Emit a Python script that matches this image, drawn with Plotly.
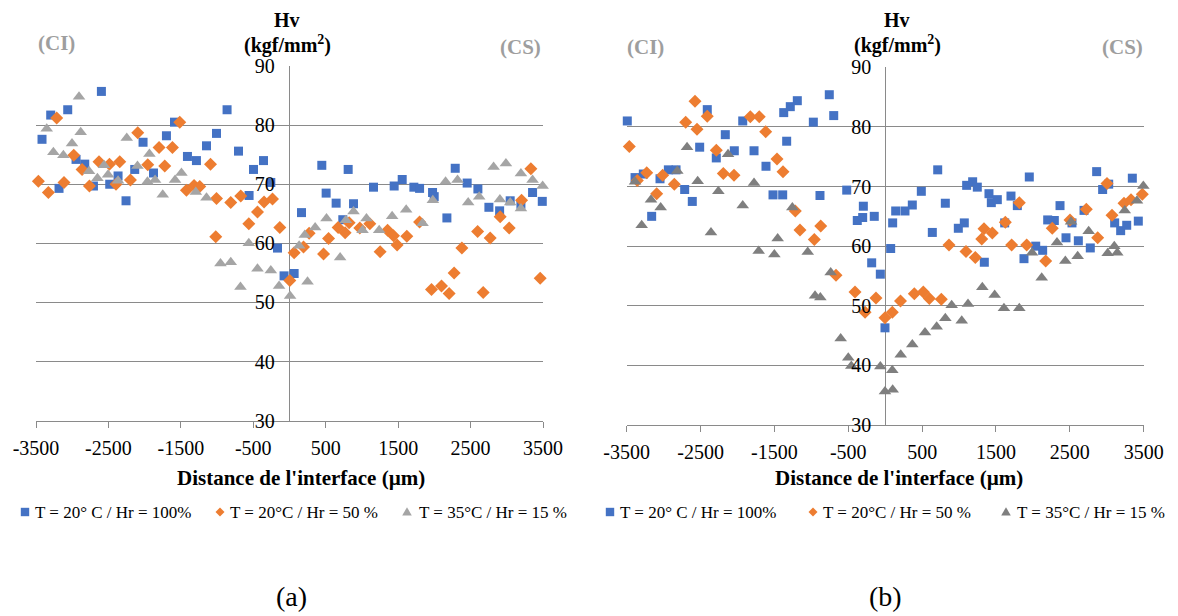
import plotly.graph_objects as go

W, H = 1178, 616
FONT = "'Liberation Serif', Tinos, 'Times New Roman', 'DejaVu Serif', serif"

# ---------------- data (a) ----------------
a_blue_x = [-3417, -3297, -3182, -3062, -2947, -2827, -2707, -2597, -2482, -2367, -2257, -2137, -2022, -1878,
            -1699, -1588, -1409, -1285, -1146, -1008, -862, -704, -558, -497, -359, -258, -166, -75, 64, 166,
            446, 506, 644, 736, 810, 884, 1160, 1445, 1556, 1717, 1796, 1975, 1998, 2173, 2288, 2453, 2601,
            2753, 2901, 3047, 3195, 3356, 3490]
a_blue_y = [77.6, 81.7, 69.3, 82.6, 74.2, 73.4, 69.7, 85.7, 70.0, 71.4, 67.2, 72.5, 77.1, 71.9,
            78.2, 80.5, 74.7, 74.0, 76.5, 78.6, 82.6, 75.6, 68.1, 72.5, 74.0, 70.3, 59.2, 54.5, 54.9, 65.2,
            73.2, 68.5, 66.8, 64.0, 72.5, 66.7, 69.5, 69.7, 70.8, 69.5, 69.3, 68.6, 67.9, 64.3, 72.7, 70.2, 69.2,
            66.1, 65.5, 67.2, 66.6, 68.6, 67.1]

a_orange_x = [-3467, -3329, -3214, -3113, -2979, -2864, -2762, -2630, -2486, -2395, -2344, -2196, -2095, -1957,
              -1801, -1722, -1616, -1515, -1423, -1318, -1239, -1091, -1018, -1008, -811, -673, -562, -442, -351,
              -235, -134, 4, 64, 193, 271, 470, 539, 671, 768, 823, 971, 1109, 1251, 1354, 1436, 1486, 1620,
              1796, 1961, 2099, 2204, 2273, 2380, 2597, 2674, 2771, 2909, 3033, 3204, 3333, 3461]
a_orange_y = [70.5, 68.6, 81.2, 70.3, 74.9, 72.5, 69.7, 73.8, 73.4, 70.0, 73.8, 70.7, 78.7, 73.3,
              76.2, 73.1, 76.2, 80.5, 69.0, 69.8, 69.6, 73.4, 61.1, 67.6, 66.9, 68.0, 63.3, 65.3, 67.0,
              67.5, 62.7, 53.7, 58.4, 59.4, 61.7, 58.2, 60.8, 62.7, 61.8, 63.5, 62.6, 63.3, 58.6, 62.2, 61.3, 59.7, 61.2,
              63.6, 52.2, 52.8, 51.5, 55.0, 59.2, 62.0, 51.7, 60.9, 64.5, 62.6, 67.3, 72.6, 54.1]

a_gray_x = [-3352, -3260, -3122, -3003, -2906, -2883, -2768, -2652, -2561, -2505, -2367, -2247, -2099, -1961,
            -1934, -1856, -1750, -1580, -1492, -1294, -1146, -953, -811, -677, -562, -442, -258, -144, 8, 133,
            211, 249, 354, 511, 699, 778, 884, 1008, 1063, 1238, 1417, 1611, 1837, 1979, 2155, 2320, 2467,
            2619, 2818, 2905, 2988, 3047, 3195, 3195, 3356, 3495]
a_gray_y = [79.4, 75.4, 74.9, 76.9, 84.8, 78.8, 72.2, 71.0, 73.2, 71.6, 70.6, 77.8, 73.1, 70.4,
            75.1, 70.7, 68.2, 70.7, 71.9, 68.7, 67.7, 56.6, 56.8, 52.6, 60.0, 55.7, 55.4, 52.8, 51.1, 59.6,
            61.4, 53.5, 62.7, 64.2, 57.6, 63.9, 65.4, 62.2, 64.2, 62.2, 64.6, 65.7, 63.4, 67.3, 70.4, 70.7, 66.9,
            67.9, 72.9, 67.4, 73.5, 66.9, 71.8, 65.9, 70.7, 69.7]

# ---------------- data (b) ----------------
b_blue_x = [-3492, -3387, -3275, -3162, -3049, -2936, -2832, -2715, -2612, -2512, -2409, -2287, -2165, -2043,
            -1929, -1776, -1614, -1519, -1388, -1374, -1334, -1285, -1190, -973, -883, -757, -697, -521, -378,
            -305, -296, -183, -148, -66, -3, 74, 101, 142, 268, 367, 489, 638, 711, 814, 990, 1071, 1103, 1184,
            1247, 1342, 1405, 1437, 1518, 1618, 1703, 1789, 1879, 1951, 2038, 2132, 2200, 2290, 2367, 2448,
            2529, 2615, 2692, 2777, 2863, 2944, 3026, 3107, 3188, 3270, 3346, 3427]
b_blue_y = [81.0, 71.5, 72.1, 65.0, 71.3, 72.8, 72.8, 69.5, 67.5, 76.6, 82.9, 74.8, 78.7, 76.0,
            81.0, 76.0, 73.4, 68.6, 68.6, 82.4, 77.6, 83.4, 84.4, 80.8, 68.5, 85.4, 81.9, 69.4, 64.3,
            64.8, 66.7, 57.2, 65.0, 55.3, 46.3, 59.6, 63.9, 65.9, 65.9, 66.9, 69.2, 62.3, 72.8, 67.2, 63.0, 63.9, 70.2, 70.8,
            69.9, 57.3, 68.8, 67.3, 67.8, 63.9, 68.4, 66.8, 57.9, 71.6, 60.0, 59.3, 64.4, 64.3, 66.8, 61.4,
            63.9, 60.9, 66.0, 59.7, 72.5, 69.5, 70.4, 63.9, 62.6, 63.5, 71.4, 64.2]

b_orange_x = [-3465, -3356, -3229, -3094, -3013, -2855, -2701, -2575, -2548, -2409, -2287, -2192, -2047, -1826,
              -1705, -1618, -1465, -1384, -1217, -1154, -960, -873, -666, -409, -273, -125, -3, 96, 207, 394,
              516, 597, 760, 864, 1094, 1220, 1307, 1338, 1450, 1626, 1712, 1816, 1916, 2173, 2262, 2502,
              2723, 2877, 3003, 3071, 3233, 3328, 3481]
b_orange_y = [76.7, 71.0, 72.3, 68.8, 71.9, 70.4, 80.8, 84.3, 79.6, 81.8, 76.1, 72.2, 71.9, 81.7,
              81.7, 79.2, 74.6, 72.5, 65.9, 62.7, 61.1, 63.4, 55.1, 52.3, 48.9, 51.3, 48.0, 48.9, 50.8, 52.0,
              52.3, 51.2, 51.1, 60.2, 59.1, 58.1, 61.2, 62.9, 62.2, 64.0, 60.2, 67.3, 60.2, 57.5, 63.0, 64.4,
              66.2, 61.4, 70.5, 65.2, 67.2, 67.8, 68.7]

b_gray_x = [-3387, -3297, -3171, -3040, -2815, -2683, -2539, -2359, -2259, -2128, -1929, -1776, -1713, -1501,
            -1456, -1257, -1049, -950, -878, -738, -603, -500, -459, -66, -3, 96, 101, 210, 367, 539, 697,
            814, 900, 1036, 1121, 1315, 1482, 1608, 1816, 1988, 2119, 2326, 2439, 2516, 2606, 2755, 3012,
            3102, 3142, 3243, 3409, 3495]
b_gray_y = [70.8, 63.5, 67.8, 66.5, 72.6, 76.6, 70.9, 62.3, 69.2, 75.4, 66.8, 70.6, 59.2, 58.6,
            61.3, 66.5, 59.0, 51.7, 51.4, 55.6, 44.5, 41.3, 39.9, 39.8, 35.6, 39.2, 35.9, 41.8, 43.5, 45.5, 46.5,
            47.9, 50.1, 47.5, 50.3, 53.1, 51.8, 49.6, 49.6, 58.9, 54.7, 60.6, 57.5, 64.1, 58.3, 62.5, 58.8,
            60.0, 58.9, 66.0, 67.6, 70.1]

series_names = ["T = 20° C / Hr = 100%", "T = 20°C / Hr = 50 %", "T = 35°C / Hr = 15 %"]
x_tick_vals = [-3500, -2500, -1500, -500, 500, 1500, 2500, 3500]
x_tick_text = ["-3500", "-2500", "-1500", "-500", "500", "1500", "2500", "3500"]
y_tick_vals = [30, 40, 50, 60, 70, 80, 90]
y_tick_text = ["30", "40", "50", "60", "70", "80", "90"]

BLUE = "#4472C4"
ORANGE = "#ED7D31"
GRAY_A = "#A5A5A5"
GRAY_B = "#7F7F7F"
GRID = "#8A8A8A"


def px(x):
    return x / W


def py(y):
    return 1 - y / H


fig = go.Figure()

panels = [
    dict(xa="x", ya="y",
         data=[(a_blue_x, a_blue_y), (a_orange_x, a_orange_y), (a_gray_x, a_gray_y)],
         gray=GRAY_A),
    dict(xa="x2", ya="y2",
         data=[(b_blue_x, b_blue_y), (b_orange_x, b_orange_y), (b_gray_x, b_gray_y)],
         gray=GRAY_B),
]

for p in panels:
    styles = [
        dict(symbol="square", size=9, color=BLUE),
        dict(symbol="diamond", size=10, color=ORANGE),
        dict(symbol="triangle-up", size=11, color=p["gray"]),
    ]
    for (xs, ys), st, name in zip(p["data"], styles, series_names):
        fig.add_trace(go.Scatter(
            x=xs, y=ys, mode="markers", name=name, showlegend=False,
            marker=dict(symbol=st["symbol"], size=st["size"], color=st["color"], line=dict(width=0)),
            xaxis=p["xa"], yaxis=p["ya"], cliponaxis=False,
        ))

# axis geometry (pixels)
ax_a = dict(x0=36, x1=543, y0=66, y1=420.7, zero=288.7)
ax_b = dict(x0=626.7, x1=1143.7, y0=67.3, y1=425, zero=885.2)

common_x = dict(range=[-3500, 3500], tickvals=x_tick_vals, ticktext=x_tick_text,
                showgrid=False, zeroline=True, zerolinecolor=GRID, zerolinewidth=1.4,
                showline=True, linecolor=GRID, linewidth=1.4,
                ticks="outside", ticklen=6, tickcolor=GRID, tickwidth=1.4,
                ticklabelstandoff=3, automargin=False,
                tickfont=dict(family=FONT, size=20, color="#000000"))
common_y = dict(range=[30, 90], tickvals=y_tick_vals, ticktext=y_tick_text,
                showgrid=True, gridcolor=GRID, gridwidth=1.4, zeroline=False,
                showline=False, ticks="", ticklabelstandoff=14, automargin=False,
                tickfont=dict(family=FONT, size=20, color="#000000"))

fig.update_layout(
    width=W, height=H, margin=dict(l=0, r=0, t=0, b=0, autoexpand=False),
    paper_bgcolor="white", plot_bgcolor="white", showlegend=False,
    font=dict(family=FONT, size=18, color="#000000"),
    xaxis=dict(domain=[px(ax_a["x0"]), px(ax_a["x1"])], anchor="y", **common_x),
    yaxis=dict(domain=[py(ax_a["y1"]), py(ax_a["y0"])], anchor="free",
               position=px(ax_a["zero"]), **common_y),
    xaxis2=dict(domain=[px(ax_b["x0"]), px(ax_b["x1"])], anchor="y2", **common_x),
    yaxis2=dict(domain=[py(ax_b["y1"]), py(ax_b["y0"])], anchor="free",
                position=px(ax_b["zero"]), **common_y),
)

ann = []
shapes = []


def add_text(text, x, y, size, color="#000000", bold=False, xanchor="center"):
    t = f"<b>{text}</b>" if bold else text
    ann.append(dict(text=t, x=px(x), y=py(y), xref="paper", yref="paper",
                    xanchor=xanchor, yanchor="middle", showarrow=False,
                    font=dict(family=FONT, size=size, color=color)))


def key_marker(kind, cx, cy, color, s=4.2):
    if kind == "square":
        shapes.append(dict(type="rect", xref="paper", yref="paper",
                           x0=px(cx - s), x1=px(cx + s), y0=py(cy + s), y1=py(cy - s),
                           fillcolor=color, line=dict(width=0)))
    elif kind == "diamond":
        d = s + 0.3
        path = (f"M {px(cx)} {py(cy - d)} L {px(cx + d)} {py(cy)} "
                f"L {px(cx)} {py(cy + d)} L {px(cx - d)} {py(cy)} Z")
        shapes.append(dict(type="path", xref="paper", yref="paper", path=path,
                           fillcolor=color, line=dict(width=0)))
    else:
        t = s + 0.6
        path = (f"M {px(cx)} {py(cy - t)} L {px(cx + t)} {py(cy + t * 0.75)} "
                f"L {px(cx - t)} {py(cy + t * 0.75)} Z")
        shapes.append(dict(type="path", xref="paper", yref="paper", path=path,
                           fillcolor=color, line=dict(width=0)))


panel_text = [
    dict(hv=287, ci=56.5, cs=520, ci_y=43, cs_y=47, xt=301, lab=291, name="(a)", gray=GRAY_A,
         keys=[25, 220, 407], texts=[33, 228, 417]),
    dict(hv=897, ci=645, cs=1122, ci_y=47, cs_y=47, xt=899, lab=885, name="(b)", gray=GRAY_B,
         keys=[610, 813, 1006], texts=[618, 821, 1015]),
]

LEG_Y = 512
for pt in panel_text:
    add_text("Hv", pt["hv"], 20, 20, bold=True)
    add_text("(kgf/mm<sup>2</sup>)", pt["hv"], 45, 20, bold=True)
    add_text("(CI)", pt["ci"], pt["ci_y"], 21, color="#9E9E9E", bold=True)
    add_text("(CS)", pt["cs"], pt["cs_y"], 21, color="#9E9E9E", bold=True)
    add_text("Distance de l'interface (µm)", pt["xt"], 478, 21, bold=True)
    add_text(pt["name"], pt["lab"], 596, 28)
    kinds = ["square", "diamond", "triangle"]
    colors = [BLUE, ORANGE, pt["gray"]]
    for kx, tx, kind, col, name in zip(pt["keys"], pt["texts"], kinds, colors, series_names):
        key_marker(kind, kx, LEG_Y, col)
        add_text(name, tx, LEG_Y, 17, xanchor="left")

fig.update_layout(annotations=ann, shapes=shapes)

fig.write_html("out.html", config={"displayModeBar": False},
               post_script="document.body.style.margin='0';document.body.style.overflow='hidden';")
